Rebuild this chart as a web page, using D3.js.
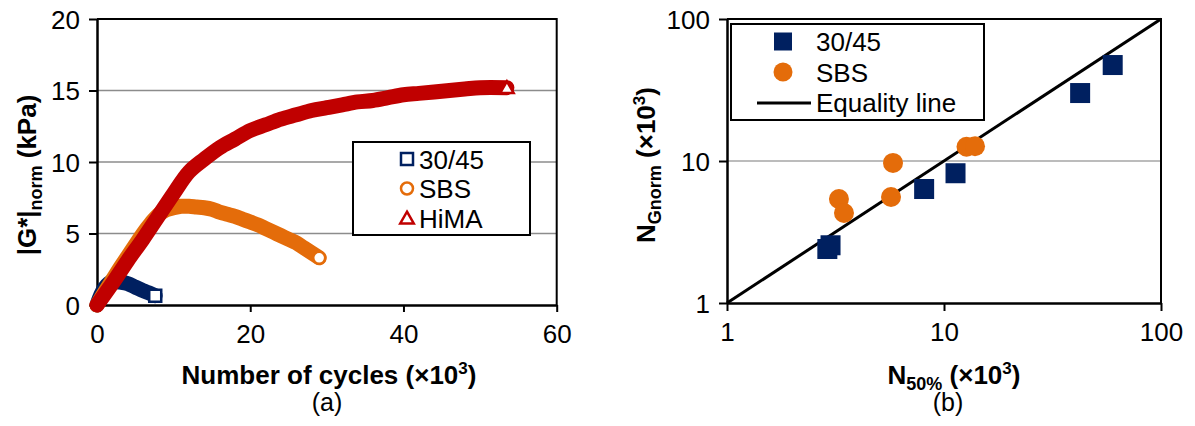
<!DOCTYPE html>
<html>
<head>
<style>
body { margin: 0; background: #fff; }
svg text { font-family: Arial, "Liberation Sans", sans-serif; }
</style>
<script src="https://cdn.jsdelivr.net/npm/d3@7/dist/d3.min.js"></script>
</head>
<body>
<svg id="fig" width="1195" height="426"></svg>
<script>
// (a) |G*|norm against number of cycles (x1000)
var cycles3045 = [0, 0.5, 1, 1.5, 2, 3, 4, 5, 6, 7, 7.6];
var g3045 = [0, 0.7, 1.2, 1.5, 1.65, 1.6, 1.5, 1.25, 1.0, 0.8, 0.65];
var cyclesSBS = [0, 1, 2, 3, 4, 5, 6, 7, 8, 9, 10, 11, 12, 13, 14, 15, 16, 17, 18, 19, 20, 21, 22, 23, 24, 25, 26, 27, 28, 29];
var gSBS = [0, 0.9, 1.75, 2.6, 3.4, 4.2, 5.0, 5.7, 6.3, 6.65, 6.8, 6.9, 6.9, 6.85, 6.8, 6.7, 6.5, 6.35, 6.2, 6.0, 5.8, 5.6, 5.35, 5.1, 4.85, 4.6, 4.35, 4.0, 3.65, 3.3];
var cyclesHiMA = [0, 2, 4, 6, 8, 10, 12, 14, 16, 18, 20, 22, 24, 26, 28, 30, 32, 34, 36, 38, 40, 42, 44, 46, 48, 50, 53.5];
var gHiMA = [0, 1.5, 3.1, 4.6, 6.2, 7.8, 9.3, 10.2, 11.0, 11.6, 12.2, 12.6, 13.0, 13.3, 13.6, 13.8, 14.0, 14.2, 14.3, 14.5, 14.7, 14.8, 14.9, 15.0, 15.1, 15.2, 15.2];
var ticksA_x = [0, 20, 40, 60];
var ticksA_y = [0, 5, 10, 15, 20];
var gridA_y = [5, 10, 15];

// (b) NGnorm against N50% (x1000)
var n50_3045 = [2.9, 3.0, 8.1, 11.3, 42.4, 59.9];
var nG_3045 = [2.4, 2.55, 6.35, 8.2, 30.1, 47.4];
var n50_SBS = [3.28, 3.46, 5.82, 5.7, 12.7, 13.9];
var nG_SBS = [5.4, 4.3, 9.7, 5.58, 12.6, 12.7];
var equality = [1, 100];
var ticksB = [1, 10, 100];
var gridB_y = [10];

var navy = "#002060", orange = "#E46C0A", red = "#C00000";
var svg = d3.select("#fig");

function zip(xs, ys) { return xs.map(function (x, i) { return [x, ys[i]]; }); }

// ---------- panel (a) ----------
var xa = d3.scaleLinear().domain([0, 60]).range([97, 556.7]);
var ya = d3.scaleLinear().domain([0, 20]).range([305, 19]);
var pa = svg.append("g");

pa.selectAll("line.grid").data(gridA_y).enter().append("line")
	.attr("x1", xa(0)).attr("x2", xa(60))
	.attr("y1", function (d) { return ya(d); }).attr("y2", function (d) { return ya(d); })
	.attr("stroke", "#8c8c8c").attr("stroke-width", 1.5);

// frame top/right
pa.append("path")
	.attr("d", "M" + xa(0) + "," + ya(20) + "H" + xa(60) + "V" + ya(0))
	.attr("fill", "none").attr("stroke", "#000").attr("stroke-width", 2);

var axA_x = d3.axisBottom(xa).tickValues(ticksA_x).tickSize(7).tickSizeOuter(0);
pa.append("g").attr("transform", "translate(0," + ya(0) + ")").call(axA_x);
var axA_y = d3.axisLeft(ya).tickValues(ticksA_y).tickSize(8).tickSizeOuter(0);
pa.append("g").attr("transform", "translate(" + xa(0) + ",0)").call(axA_y);

var lineA = d3.line().x(function (d) { return xa(d[0]); }).y(function (d) { return ya(d[1]); })
	.curve(d3.curveCatmullRom);

var seriesA = [
	{ pts: zip(cycles3045, g3045), c: navy, m: "square" },
	{ pts: zip(cyclesSBS, gSBS), c: orange, m: "circle" },
	{ pts: zip(cyclesHiMA, gHiMA), c: red, m: "triangle" }
];
seriesA.forEach(function (s) {
	pa.append("path").attr("d", lineA(s.pts))
		.attr("fill", "none").attr("stroke", s.c).attr("stroke-width", 15)
		.attr("stroke-linejoin", "round").attr("stroke-linecap", "round");
});

function openMarker(g, type, cx, cy, c, size) {
	var sym = type == "square" ? d3.symbolSquare : type == "circle" ? d3.symbolCircle : d3.symbolTriangle;
	var area = type == "triangle" ? size * size * 0.55 : type == "circle" ? size * size * 0.785 : size * size;
	var dy = type == "triangle" ? 1.5 : 0;
	g.append("path").attr("d", d3.symbol().type(sym).size(area)())
		.attr("transform", "translate(" + cx + "," + (cy + dy) + ")")
		.attr("fill", "#fff").attr("stroke", c).attr("stroke-width", 2.5);
}
seriesA.forEach(function (s) {
	var last = s.pts[s.pts.length - 1];
	openMarker(pa, s.m, xa(last[0]), ya(last[1]), s.c, 12);
});

// legend (a)
pa.append("rect").attr("x", 353).attr("y", 142).attr("width", 177).attr("height", 93)
	.attr("fill", "#fff").attr("stroke", "#000").attr("stroke-width", 2);
var legA = [["30/45", navy, "square"], ["SBS", orange, "circle"], ["HiMA", red, "triangle"]];
legA.forEach(function (d, i) {
	var cy = 159 + i * 29.5;
	openMarker(pa, d[2], 407, cy, d[1], 12);
	pa.append("text").attr("x", 419).attr("y", cy + 9.5).attr("font-size", 26).text(d[0]);
});

var tAx = pa.append("text").attr("x", 329).attr("y", 384).attr("text-anchor", "middle")
	.attr("font-size", 26).attr("font-weight", "bold");
tAx.append("tspan").text("Number of cycles (×10");
tAx.append("tspan").attr("font-size", 17).attr("dy", -10).text("3");
tAx.append("tspan").attr("dy", 10).text(")");
pa.append("text").attr("x", 327).attr("y", 411).attr("text-anchor", "middle")
	.attr("font-size", 25).text("(a)");

var tA = pa.append("text").attr("transform", "translate(36,175) rotate(-90)")
	.attr("text-anchor", "middle").attr("font-size", 26).attr("font-weight", "bold");
tA.append("tspan").text("|G*|");
tA.append("tspan").attr("font-size", 18).attr("dy", 6).text("norm");
tA.append("tspan").attr("dy", -6).text(" (kPa)");

// ---------- panel (b) ----------
var xb = d3.scaleLog().domain([1, 100]).range([727, 1161]);
var yb = d3.scaleLog().domain([1, 100]).range([303, 19]);
var pb = svg.append("g");

pb.selectAll("line.grid").data(gridB_y).enter().append("line")
	.attr("x1", xb(1)).attr("x2", xb(100))
	.attr("y1", function (d) { return yb(d); }).attr("y2", function (d) { return yb(d); })
	.attr("stroke", "#a6a6a6").attr("stroke-width", 1.5);
pb.append("path")
	.attr("d", "M" + xb(1) + "," + yb(100) + "H" + xb(100) + "V" + yb(1))
	.attr("fill", "none").attr("stroke", "#000").attr("stroke-width", 2);

var axB_x = d3.axisBottom(xb).tickValues(ticksB).tickFormat(d3.format("d")).tickSize(8).tickSizeOuter(0);
pb.append("g").attr("transform", "translate(0," + yb(1) + ")").call(axB_x);
var axB_y = d3.axisLeft(yb).tickValues(ticksB).tickFormat(d3.format("d")).tickSize(8).tickSizeOuter(0);
pb.append("g").attr("transform", "translate(" + xb(1) + ",0)").call(axB_y);

pb.append("line")
	.attr("x1", xb(equality[0])).attr("y1", yb(equality[0]))
	.attr("x2", xb(equality[1])).attr("y2", yb(equality[1]))
	.attr("stroke", "#000").attr("stroke-width", 3);

pb.selectAll("rect.pt").data(zip(n50_3045, nG_3045)).enter().append("rect")
	.attr("x", function (d) { return xb(d[0]) - 10; }).attr("y", function (d) { return yb(d[1]) - 10; })
	.attr("width", 20).attr("height", 20).attr("fill", navy);
pb.selectAll("circle.pt").data(zip(n50_SBS, nG_SBS)).enter().append("circle")
	.attr("cx", function (d) { return xb(d[0]); }).attr("cy", function (d) { return yb(d[1]); })
	.attr("r", 10).attr("fill", orange);

// legend (b)
pb.append("rect").attr("x", 731).attr("y", 24).attr("width", 253).attr("height", 96)
	.attr("fill", "#fff").attr("stroke", "#000").attr("stroke-width", 2);
pb.append("rect").attr("x", 783 - 9).attr("y", 41.5 - 9).attr("width", 18).attr("height", 18).attr("fill", navy);
pb.append("circle").attr("cx", 783).attr("cy", 72).attr("r", 9.5).attr("fill", orange);
pb.append("line").attr("x1", 757).attr("x2", 811).attr("y1", 103).attr("y2", 103)
	.attr("stroke", "#000").attr("stroke-width", 3);
["30/45", "SBS", "Equality line"].forEach(function (t, i) {
	pb.append("text").attr("x", 816).attr("y", 51 + i * 30.7).attr("font-size", 26).text(t);
});

var tBx = pb.append("text").attr("x", 954).attr("y", 384).attr("text-anchor", "middle")
	.attr("font-size", 26).attr("font-weight", "bold");
tBx.append("tspan").text("N");
tBx.append("tspan").attr("font-size", 18).attr("dy", 6).text("50%");
tBx.append("tspan").attr("dy", -6).text(" (×10");
tBx.append("tspan").attr("font-size", 17).attr("dy", -10).text("3");
tBx.append("tspan").attr("dy", 10).text(")");
pb.append("text").attr("x", 948).attr("y", 411).attr("text-anchor", "middle")
	.attr("font-size", 25).text("(b)");

var tBy = pb.append("text").attr("transform", "translate(655,165) rotate(-90)")
	.attr("text-anchor", "middle").attr("font-size", 26).attr("font-weight", "bold");
tBy.append("tspan").text("N");
tBy.append("tspan").attr("font-size", 18).attr("dy", 6).text("Gnorm");
tBy.append("tspan").attr("dy", -6).text(" (×10");
tBy.append("tspan").attr("font-size", 17).attr("dy", -10).text("3");
tBy.append("tspan").attr("dy", 10).text(")");

// axis styling
svg.selectAll(".domain").attr("stroke", "#000").attr("stroke-width", 2.5);
svg.selectAll(".tick line").attr("stroke", "#000").attr("stroke-width", 2);
svg.selectAll(".tick text").attr("font-size", 26).attr("fill", "#000")
	.attr("font-family", "Arial, 'Liberation Sans', sans-serif");
svg.selectAll("g.tick text").each(function () {
	var g = this.parentNode.parentNode;
	var isX = g.getAttribute("transform").indexOf("translate(0,") == 0;
	if (isX) d3.select(this).attr("y", 13).attr("dy", "0.95em");
	else d3.select(this).attr("x", -17).attr("dy", "0.36em");
});
</script>
</body>
</html>
